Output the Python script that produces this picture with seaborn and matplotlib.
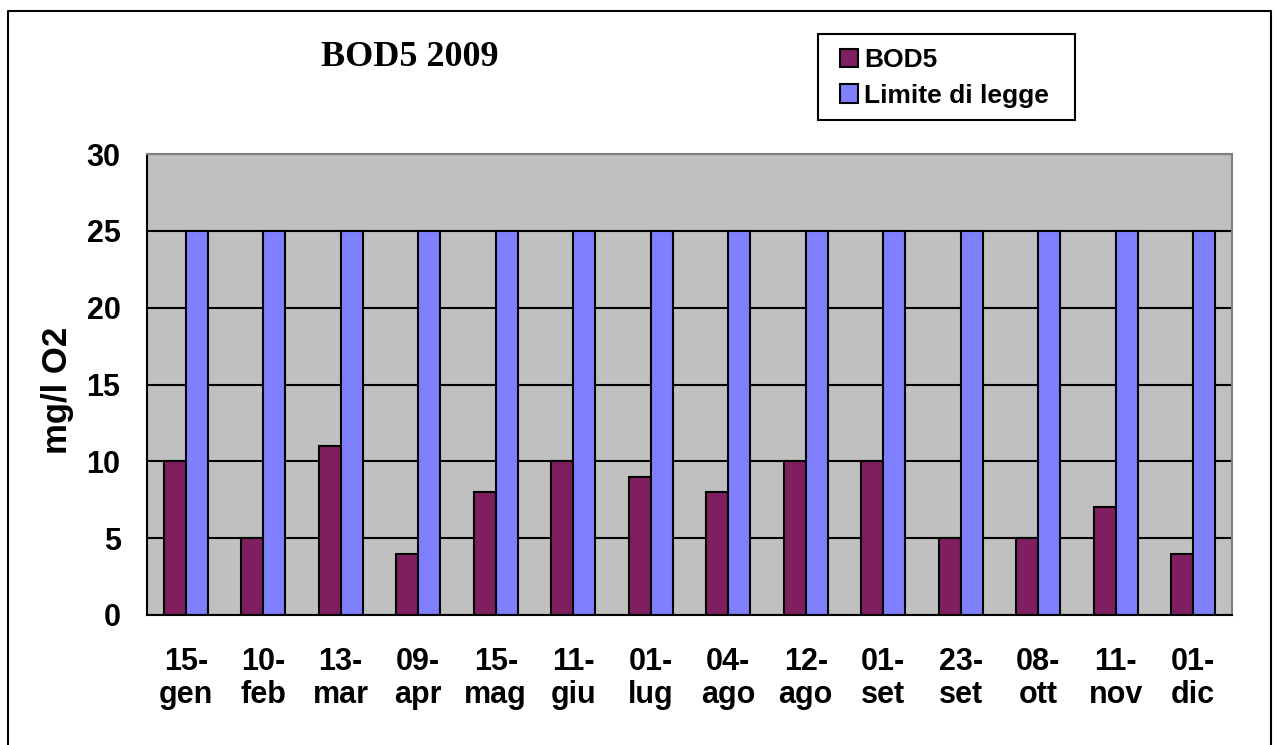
import pandas as pd
import matplotlib
matplotlib.use("Agg")
import matplotlib.pyplot as plt
from matplotlib.lines import Line2D
from matplotlib.patches import Rectangle
import seaborn as sns

dates = ["15-\ngen", "10-\nfeb", "13-\nmar", "09-\napr", "15-\nmag", "11-\ngiu", "01-\nlug",
         "04-\nago", "12-\nago", "01-\nset", "23-\nset", "08-\nott", "11-\nnov", "01-\ndic"]
bod5 = [10, 5, 11, 4, 8, 10, 9, 8, 10, 10, 5, 5, 7, 4]
limite = [25] * 14
series_names = ["BOD5", "Limite di legge"]
yticks = [0, 5, 10, 15, 20, 25, 30]
colors = ["#7F1F5F", "#8080FF"]

data = pd.DataFrame({
    "date": dates * 2,
    "value": bod5 + limite,
    "serie": [series_names[0]] * len(dates) + [series_names[1]] * len(dates),
})

sns.set_style("white")
plt.rcParams["font.family"] = ["Liberation Sans", "DejaVu Sans"]
plt.rcParams["text.color"] = "black"
plt.rcParams["xtick.color"] = "black"
plt.rcParams["ytick.color"] = "black"
plt.rcParams["axes.labelcolor"] = "black"

fig = plt.figure(figsize=(12.77, 7.45), dpi=100)
ax = fig.add_axes([147 / 1277, 1 - 615 / 745, (1232 - 147) / 1277, (615 - 154) / 745])

sns.barplot(data=data, x="date", y="value", hue="serie", order=dates,
            hue_order=series_names, palette=colors,
            width=0.57, gap=0, edgecolor="black", linewidth=1.5,
            saturation=1, ax=ax, legend=False)

ax.set_facecolor("#C0C0C0")
ax.set_axisbelow(True)
ax.set_xlim(-0.5, len(dates) - 0.5)
ax.set_ylim(0, 30)
ax.set_yticks(yticks)
ax.yaxis.grid(True, color="black", linewidth=1.5)
ax.xaxis.grid(False)

ax.set_xticks(range(len(dates)))
ax.set_xticklabels(dates, fontsize=22, fontweight="bold", linespacing=1.13)
ax.set_xticks([i - 0.5 for i in range(len(dates) + 1)], minor=True)
ax.tick_params(axis="x", which="major", length=0, pad=23)
ax.tick_params(axis="x", which="minor", length=8, width=1.5, direction="out")
ax.tick_params(axis="y", length=10, width=1.5, direction="out", pad=9, labelsize=22)
for lbl in ax.get_yticklabels():
    lbl.set_fontweight("bold")

ax.set_xlabel("")
ax.set_ylabel("mg/l O2", fontsize=25, fontweight="bold", labelpad=9, y=0.488)

for side in ["left", "bottom"]:
    ax.spines[side].set_color("black")
    ax.spines[side].set_linewidth(1.5)
for side in ["top", "right"]:
    ax.spines[side].set_color("#808080")
    ax.spines[side].set_linewidth(1.5)

fig.text(410 / 1277, 1 - 57 / 745, "BOD5 2009", family="Liberation Serif",
         fontsize=26, fontweight="bold", ha="center", va="center")

# legend with a hand-placed frame
fig.add_artist(Rectangle((818 / 1277, 1 - 120 / 745), (1075 - 818) / 1277, 86 / 745,
                         transform=fig.transFigure, facecolor="white", edgecolor="black",
                         linewidth=1.5))
handles = [Rectangle((0, 0), 1, 1, facecolor=c, edgecolor="black", linewidth=1.5)
           for c in colors]
leg = fig.legend(handles, series_names, loc="center left",
                 bbox_to_anchor=(840 / 1277, 1 - 78 / 745), bbox_transform=fig.transFigure,
                 borderaxespad=0, borderpad=0, frameon=False,
                 prop={"size": 19, "weight": "bold"}, handlelength=0.7, handleheight=0.7,
                 handletextpad=0.2, labelspacing=0.45)

# outer border of the chart area
fig.add_artist(Line2D([8 / 1277, 8 / 1277, 1271 / 1277, 1271 / 1277],
                      [0, 1 - 11 / 745, 1 - 11 / 745, 0],
                      transform=fig.transFigure, color="black", linewidth=1.5))

fig.savefig("out.png", dpi=100)
